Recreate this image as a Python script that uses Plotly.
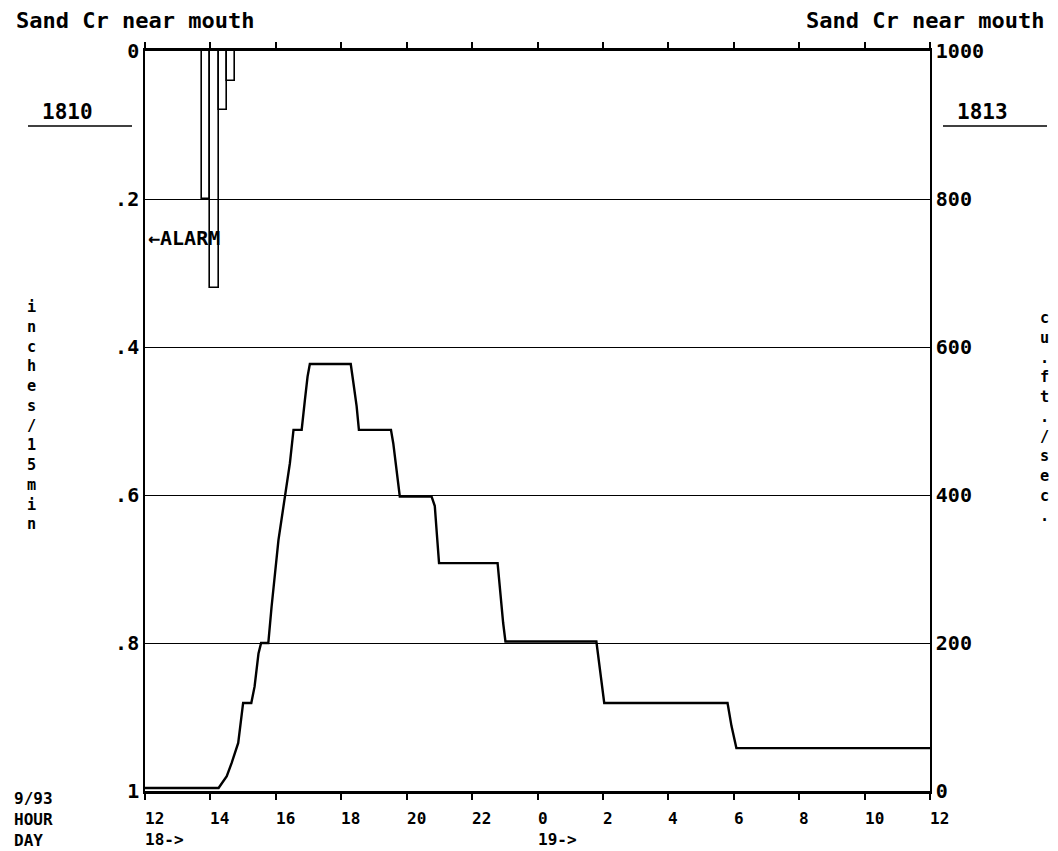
import plotly.graph_objects as go

# ---------------- data ----------------
# stream flow (cu.ft./sec) ; time in hours counted from 12:00 on day 18
flow_hours = [12.0, 14.25, 14.50, 14.65, 14.85, 15.0, 15.25, 15.35, 15.47, 15.55,
              15.77, 15.87, 16.08, 16.28, 16.43, 16.54, 16.79, 16.89, 16.97, 17.04,
              18.29, 18.37, 18.47, 18.54, 19.52, 19.59, 19.69, 19.79, 20.76, 20.86,
              20.92, 20.99, 22.78, 22.85, 22.95, 23.02, 25.80, 25.91, 26.04, 29.81,
              29.93, 30.08, 36.0]
flow_cfs = [4, 4, 20, 38, 65, 119, 119, 141, 186, 200,
            200, 249, 339, 398, 443, 488, 488, 529, 560, 577,
            577, 552, 520, 488, 488, 470, 430, 398, 398, 385,
            349, 308, 308, 272, 227, 202, 202, 164, 119, 119,
            88, 58, 58]

# rainfall (inches / 15 min), bar centre times
rain_hours = [13.875, 14.125, 14.375, 14.625]
rain_in = [0.20, 0.32, 0.08, 0.04]

hour_ticks = [12, 14, 16, 18, 20, 22, 24, 26, 28, 30, 32, 34, 36]
hour_labels = ["12", "14", "16", "18", "20", "22", "0", "2", "4", "6", "8", "10", "12"]
day_ticks = [12, 24]
day_labels = ["18->", "19->"]

rain_ticks = [0, 0.2, 0.4, 0.6, 0.8, 1.0]
rain_labels = ["0", ".2", ".4", ".6", ".8", "1"]
flow_ticks = [0, 200, 400, 600, 800, 1000]
flow_labels = ["0", "200", "400", "600", "800", "1000"]

title_text = "Sand Cr near mouth"
left_station = "1810"
right_station = "1813"
alarm_text = "←ALARM"
left_axis_title = "inches/15min"
right_axis_title = "cu.ft./sec."
corner_labels = ["9/93", "HOUR", "DAY"]

# ---------------- layout helpers ----------------
OFF = 8                      # page body margin in the browser
W, H = 1058 - OFF, 851 - OFF
PLOT_L, PLOT_R, PLOT_T, PLOT_B = 145, 930, 51, 791   # on-screen plot box
L, R, T, B = PLOT_L - OFF, W - (PLOT_R - OFF), PLOT_T - OFF, H - (PLOT_B - OFF)
PW, PH = W - L - R, H - T - B


def px(x):
    """screen x pixel -> paper fraction"""
    return (x - OFF - L) / PW


def py(y):
    """screen y pixel -> paper fraction"""
    return (H - B - (y - OFF)) / PH


MONO = "DejaVu Sans Mono"


def font(size):
    return dict(family=MONO, size=size, color="black", weight="bold")


fig = go.Figure()

fig.add_trace(go.Bar(
    x=rain_hours, y=rain_in, width=0.25, yaxis="y",
    marker=dict(color="rgba(0,0,0,0)", line=dict(color="black", width=1.6)),
    hoverinfo="skip", showlegend=False,
))

fig.add_trace(go.Scatter(
    x=flow_hours, y=flow_cfs, yaxis="y2", mode="lines",
    line=dict(color="black", width=2.4), showlegend=False,
))

annotations = []
# titles
annotations.append(dict(text=title_text, x=px(14), y=py(20), xref="paper", yref="paper",
                        xanchor="left", yanchor="middle", showarrow=False, font=font(22)))
annotations.append(dict(text=title_text, x=px(1046), y=py(20), xref="paper", yref="paper",
                        xanchor="right", yanchor="middle", showarrow=False, font=font(22)))
# station numbers
annotations.append(dict(text=left_station, x=px(67), y=py(112), xref="paper", yref="paper",
                        xanchor="center", yanchor="middle", showarrow=False, font=font(21)))
annotations.append(dict(text=right_station, x=px(982), y=py(112), xref="paper", yref="paper",
                        xanchor="center", yanchor="middle", showarrow=False, font=font(21)))
# alarm
annotations.append(dict(text=alarm_text, x=px(146), y=py(238), xref="paper", yref="paper",
                        xanchor="left", yanchor="middle", showarrow=False, font=font(20)))
# stacked axis titles
annotations.append(dict(text="<br>".join(list(left_axis_title)), x=px(31), y=py(416),
                        xref="paper", yref="paper", xanchor="center", yanchor="middle",
                        showarrow=False, font=font(15.2)))
annotations.append(dict(text="<br>".join(list(right_axis_title)), x=px(1044), y=py(417),
                        xref="paper", yref="paper", xanchor="center", yanchor="middle",
                        showarrow=False, font=font(15.2)))
# x tick labels (left-aligned at the tick, like the original), day under hour
day_map = dict(zip(day_ticks, day_labels))
for v, lab in zip(hour_ticks, hour_labels):
    txt = lab + ("<br>" + day_map[v] if v in day_map else "")
    annotations.append(dict(text=txt, x=v, y=py(807), xref="x", yref="paper",
                            xanchor="left", yanchor="top", xshift=-2, align="left",
                            showarrow=False, font=font(16)))
annotations.append(dict(text="<br>".join(corner_labels), x=px(12), y=py(787),
                        xref="paper", yref="paper", xanchor="left", yanchor="top",
                        align="left", showarrow=False, font=font(16)))

shapes = [
    dict(type="line", xref="paper", yref="paper", x0=px(28), x1=px(132), y0=py(126), y1=py(126),
         line=dict(color="black", width=1.6)),
    dict(type="line", xref="paper", yref="paper", x0=px(943), x1=px(1047), y0=py(126), y1=py(126),
         line=dict(color="black", width=1.6)),
]

fig.update_layout(
    width=W, height=H,
    margin=dict(l=L, r=R, t=T, b=B, pad=0),
    paper_bgcolor="white", plot_bgcolor="white",
    showlegend=False, bargap=0,
    annotations=annotations, shapes=shapes,
    xaxis=dict(range=[12, 36], tickvals=hour_ticks, showticklabels=False,
               ticks="outside", ticklen=6, tickwidth=1.5, tickcolor="black",
               showline=True, linewidth=2.6, linecolor="black", mirror="ticks",
               showgrid=False, zeroline=False),
    yaxis=dict(range=[1, 0], tickvals=rain_ticks, ticktext=rain_labels,
               tickfont=font(20), ticks="", showgrid=True, gridcolor="black", gridwidth=1.3,
               showline=True, linewidth=1.6, linecolor="black", zeroline=False),
    yaxis2=dict(range=[0, 1000], tickvals=flow_ticks, ticktext=flow_labels,
                tickfont=font(20), ticks="", overlaying="y", side="right",
                showgrid=False, showline=True, linewidth=1.6, linecolor="black",
                zeroline=False),
)

fig.write_html("out.html")
